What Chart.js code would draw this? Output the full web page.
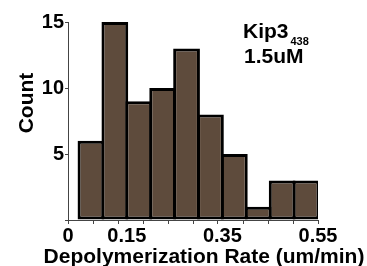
<!DOCTYPE html>
<html>
  <head>
    <title>Kip3 depolymerization</title>
    <meta charset="UTF-8" />
    <style>
      html, body { margin: 0; padding: 0; background: #ffffff; }
      #app { width: 367px; height: 266px; }
    </style>
  </head>
  <body>
    <div id="app">
      <canvas id="myChartRate"></canvas>
    </div>
<script src="https://cdn.jsdelivr.net/npm/chart.js@4"></script>
<script>
// bin centres (um/min), bins are 0.05 wide
var binCenters = [0.075, 0.125, 0.175, 0.225, 0.275, 0.325, 0.375, 0.425, 0.475, 0.525];
var counts = [6, 15, 9, 10, 13, 8, 5, 1, 3, 3];

// axis range, the plot starts a bit after 0 like the original
var xMin = 0.027;
var xMax = 0.55;
var xTickLabels = [
  { value: 0.027, text: '0' },
  { value: 0.15, text: '0.15' },
  { value: 0.35, text: '0.35' },
  { value: 0.55, text: '0.55' }
];
var xTickMarkCount = 11;
var yTicks = [0, 5, 10, 15];

var fontFamily = '"Liberation Sans", Arial, sans-serif';

// tick marks spaced evenly along the axis, labels at their own values
var xTicks = [];
for (var k = 0; k < xTickMarkCount; k++) {
  xTicks.push({ value: xMin + k * (xMax - xMin) / (xTickMarkCount - 1), label: '', mark: true });
}
xTickLabels.forEach(function (t) {
  var found = xTicks.find(function (m) { return Math.abs(m.value - t.value) < 0.002; });
  if (found) found.label = t.text;
  else xTicks.push({ value: t.value, label: t.text, mark: false });
});
xTicks.sort(function (a, b) { return a.value - b.value; });

var data = [];
for (var i = 0; i < binCenters.length; i++) {
  data.push({ x: binCenters[i], y: counts[i] });
}

var textPlugin = {
  id: 'textPlugin',
  afterDraw: function (chart) {
    var ctx = chart.ctx;
    ctx.save();
    ctx.fillStyle = '#000000';
    // axis titles
    ctx.font = 'bold 21px ' + fontFamily;
    ctx.textAlign = 'center';
    ctx.textBaseline = 'alphabetic';
    ctx.fillText('Depolymerization Rate (um/min)', 204, 263);
    ctx.save();
    ctx.translate(33, 103);
    ctx.rotate(-Math.PI / 2);
    ctx.fillText('Count', 0, 0);
    ctx.restore();
    // label in the corner
    ctx.textAlign = 'left';
    ctx.fillText('Kip3', 243, 38);
    var w = ctx.measureText('Kip3').width;
    ctx.font = 'bold 11px ' + fontFamily;
    ctx.fillText('438', 243 + w + 2, 45);
    ctx.font = 'bold 21px ' + fontFamily;
    ctx.fillText('1.5uM', 244, 63);
    ctx.restore();
  }
};

var config_rate = {
  type: 'bar',
  data: {
    datasets: [{
      label: 'count',
      data: data,
      xAxisID: 'xb',
      backgroundColor: '#5e4b3c',
      borderColor: '#000000',
      borderWidth: 3,
      borderSkipped: false,
      barPercentage: 1.12,
      categoryPercentage: 1
    }]
  },
  options: {
    responsive: false,
    animation: false,
    layout: { padding: { left: 0, right: 49, top: 22, bottom: 0 } },
    plugins: { legend: { display: false }, tooltip: { enabled: false } },
    scales: {
      // hidden scale that carries the bars
      xb: {
        type: 'linear',
        position: 'bottom',
        display: false,
        offset: false,
        min: xMin,
        max: xMax,
        afterBuildTicks: function (scale) {
          scale.ticks = binCenters.map(function (v) { return { value: v }; });
        }
      },
      x: {
        type: 'linear',
        position: 'bottom',
        offset: false,
        min: xMin,
        max: xMax,
        afterBuildTicks: function (scale) {
          scale.ticks = xTicks.map(function (t) { return { value: t.value }; });
        },
        afterFit: function (scale) { scale.height = 46; },
        ticks: {
          autoSkip: false,
          maxRotation: 0,
          padding: 0,
          color: '#000000',
          font: { family: fontFamily, size: 20, weight: 'bold' },
          callback: function (value, index) { return xTicks[index] ? xTicks[index].label : ''; }
        },
        grid: {
          offset: false,
          drawOnChartArea: false,
          drawTicks: true,
          tickLength: 4,
          tickColor: function (ctx) {
            var t = xTicks[ctx.index];
            return t && t.mark ? '#444444' : 'rgba(0,0,0,0)';
          }
        },
        border: { color: '#444444', width: 1 },
        title: { display: false }
      },
      y: {
        min: 0,
        max: 15,
        afterBuildTicks: function (scale) {
          scale.ticks = yTicks.map(function (v) { return { value: v }; });
        },
        afterFit: function (scale) { scale.width = 68; },
        ticks: {
          padding: 1,
          color: '#000000',
          font: { family: fontFamily, size: 20, weight: 'bold' },
          callback: function (value) { return value === 0 ? '' : value; }
        },
        grid: {
          drawOnChartArea: false,
          drawTicks: true,
          tickLength: 3,
          tickColor: '#444444'
        },
        border: { color: '#444444', width: 1 },
        title: { display: false }
      }
    }
  },
  plugins: [textPlugin]
};

var canvas = document.getElementById('myChartRate');
canvas.width = 367;
canvas.height = 266;
var myChartRate = new Chart(canvas, config_rate);
</script>
</body>
</html>
